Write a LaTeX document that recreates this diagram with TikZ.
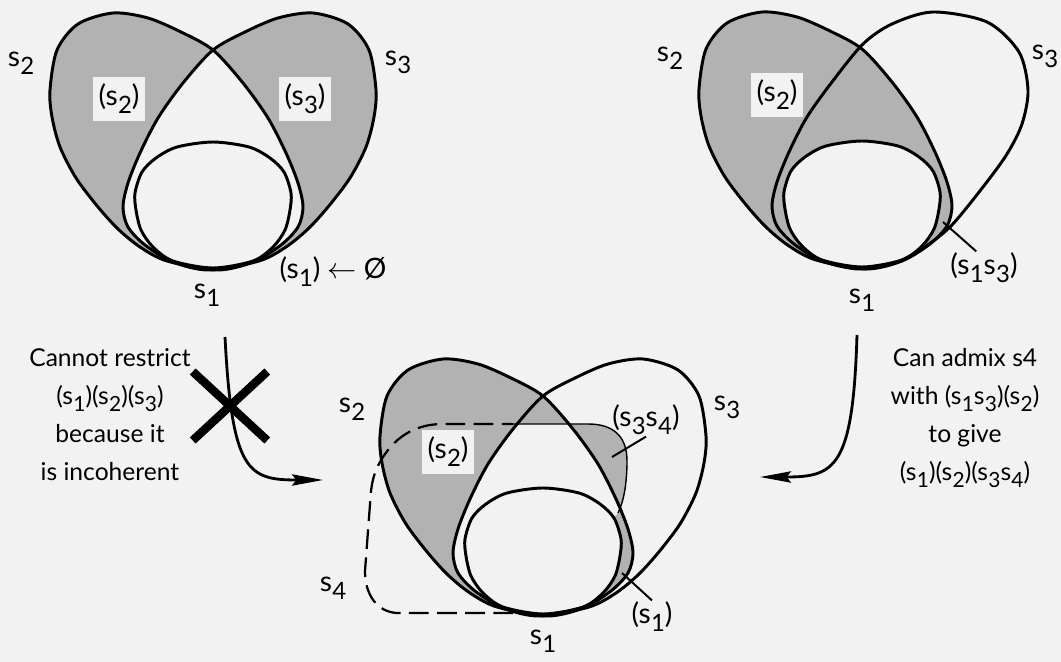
\documentclass[tikz,border=0pt]{standalone}
\usepackage{amsmath,amssymb}
\usepackage{fontspec}
\setmainfont{Lato}
\usetikzlibrary{arrows.meta,shapes.misc}
\usepackage{xcolor}
\definecolor{paper}{gray}{0.95}
\definecolor{dots}{gray}{0.7}

\newcommand{\sv}[1]{s\kern.2pt\raisebox{-.55ex}{\scalebox{.85}{#1}}}
% outlines, round the centre of the inner oval
\newcommand{\sOne}{plot[smooth cycle] coordinates {(0,-63) (36,-58) (57,-47) (71,-33) (78,-12) (77,5) (72,25) (60,42) (40,56) (0,63) (-40,56) (-60,42) (-72,25) (-77,5) (-78,-12) (-71,-33) (-57,-47) (-36,-58)}}
\newcommand{\sTwo}{plot[smooth cycle] coordinates {(-163,-115) (-156,-155) (-135,-181) (-100,-192) (-65,-187) (-32,-173) (0,-155) (30,-122) (55,-87) (73,-52) (85,-22) (90,2) (85,22) (68,40) (40,57) (4,65) (-46,56) (-73,42) (-95,24) (-115,2) (-137,-27) (-153,-58) (-161,-88)}}
\newcommand{\sThree}{plot[smooth cycle] coordinates {(166,-114) (157,-152) (125,-182) (71,-192) (30,-180) (1,-160) (-30,-122) (-55,-87) (-73,-52) (-85,-22) (-90,2) (-85,22) (-68,40) (-40,57) (-4,65) (30,60) (58,46) (88,23) (121,-17) (145,-50) (160,-80)}}
\newcommand{\sFour}{(-163,-89) .. controls (-150,-112) and (-130,-127) .. (-100,-127) -- (45,-127) .. controls (70,-127) and (84,-115) .. (84,-90) .. controls (84,-65) and (80,-48) .. (75,-38) -- (30,10) -- (0,63) -- (-146,62) .. controls (-165,61) and (-178,45) .. (-178,20) -- (-172,-60) .. controls (-170,-75) and (-167,-82) .. (-163,-89) -- cycle}

\begin{document}
\begin{tikzpicture}[x=0.025cm,y=-0.025cm,>={Stealth[length=22pt,width=8pt,inset=3pt]},
  rim/.style={line width=2.1pt},
  leader/.style={line width=1.4pt},
  flow/.style={line width=2pt,->},
  lab/.style={font=\fontsize{20}{24}\selectfont,inner sep=1pt},
  hole/.style={lab,fill=paper,minimum width=37pt,minimum height=31pt},
  note/.style={font=\fontsize{17.5}{27}\selectfont,align=center}]
\fill[paper] (0,0) rectangle (1061,662);
\useasboundingbox (0,0) rectangle (1061,662);

% first diagram
\begin{scope}[shift={(213,205)}]
\fill[dots] \sTwo;
\fill[dots,xscale=-1] \sTwo;
\begin{scope}
\clip \sTwo;
\fill[paper,xscale=-1] \sTwo;
\end{scope}
\node[hole] (a-r2) at (-94,-106) {(\sv{2})};
\node[hole] (a-r3) at (92,-106) {(\sv{3})};
\draw[rim] \sTwo;
\draw[rim,xscale=-1] \sTwo;
\draw[rim] \sOne;
\end{scope}
\node[lab] (a-s2) at (21,63) {\sv{2}};
\node[lab] (a-s3) at (398,62) {\sv{3}};
\node[lab] (a-s1) at (207,295) {\sv{1}};
\node[lab] (a-empty) at (333,272) {(\sv{1}) $\leftarrow$ Ø};

% second diagram
\begin{scope}[shift={(862,204)}]
\fill[dots] \sTwo;
\fill[paper] \sOne;
\node[hole] (b-r2) at (-85,-109) {(\sv{2})};
\draw[rim] \sTwo;
\draw[rim] \sThree;
\draw[rim] \sOne;
\end{scope}
\node[lab] (b-s2) at (670,58) {\sv{2}};
\node[lab] (b-s3) at (1045,56) {\sv{3}};
\node[lab] (b-s1) at (862,300) {\sv{1}};
\node[lab] (b-r13) at (984,268) {(\sv{1}\sv{3})};
\coordinate (b-p13) at (943,222);
\draw[leader] (b-r13.115) -- (b-p13);

% third diagram
\begin{scope}[shift={(543,551)}]
\fill[dots] \sTwo;
\begin{scope}
\clip[xscale=-1] \sTwo;
\clip \sFour;
\fill[paper] \sTwo;
\fill[dots,even odd rule] \sTwo (-300,-300) rectangle (300,300);
\end{scope}
\fill[paper] \sOne;
\node[hole] (c-r2) at (-95,-99) {(\sv{2})};
\draw[rim] \sTwo;
\draw[rim,xscale=-1] \sTwo;
\draw[rim] \sOne;
\draw[line width=1.6pt,dash pattern=on 14pt off 6pt] (-30,62) -- (-146,62) .. controls (-165,61) and (-178,45) .. (-178,20) -- (-172,-60) .. controls (-170,-75) and (-167,-82) .. (-163,-89) .. controls (-150,-112) and (-130,-127) .. (-100,-127) -- (-30,-127);
\draw[line width=1pt] (-30,-127) -- (45,-127) .. controls (70,-127) and (84,-115) .. (84,-90) .. controls (84,-65) and (80,-48) .. (75,-38);
\end{scope}
\node[lab] (c-s2) at (352,409) {\sv{2}};
\node[lab] (c-s3) at (727,407) {\sv{3}};
\node[lab] (c-s4) at (333,588) {\sv{4}};
\node[lab] (c-s1) at (543,641) {\sv{1}};
\node[lab] (c-r34) at (646,420) {(\sv{3}\sv{4})};
\coordinate (c-p34) at (612,457);
\draw[leader] (c-r34.south) -- (c-p34);
\node[lab] (c-r1) at (652,617) {(\sv{1})};
\coordinate (c-p1) at (622,573);
\draw[leader] (c-r1.north) -- (c-p1);

% the two steps
\node[note] (nogo-txt) at (110,415) {Cannot restrict\\(\sv{1})(\sv{2})(\sv{3})\\because it\\is incoherent};
\coordinate (l-top) at (225,337);
\coordinate (l-tip) at (323,480);
\draw[flow] (l-top) .. controls (232,472) and (248,480) .. (l-tip);
\node[draw,cross out,line width=6pt,minimum width=47pt,minimum height=43pt,inner sep=0pt] (nogo) at (230,406) {};

\node[note] (mix-txt) at (965,418) {Can admix s4\\with (\sv{1}\sv{3})(\sv{2})\\to give\\(\sv{1})(\sv{2})(\sv{3}\sv{4})};
\coordinate (r-top) at (857,335);
\coordinate (r-tip) at (760,477);
\draw[flow] (r-top) .. controls (853,468) and (835,477) .. (r-tip);
\end{tikzpicture}
\end{document}
